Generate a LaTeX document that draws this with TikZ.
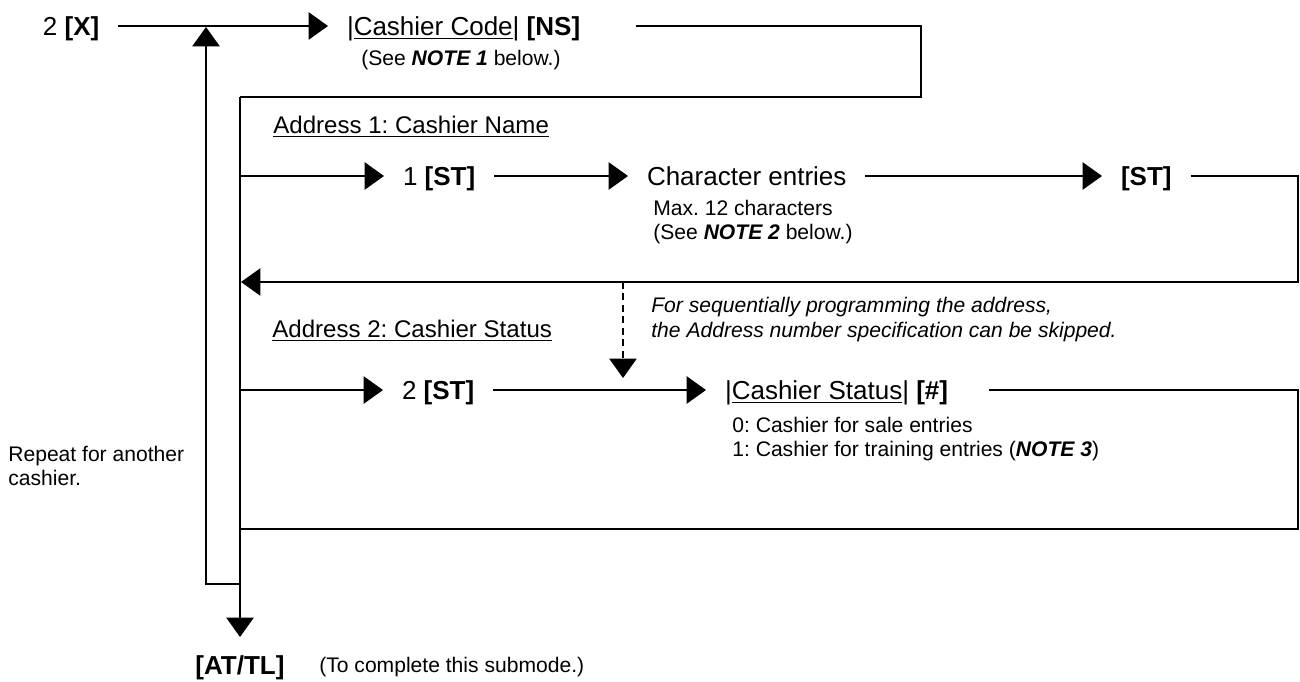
\documentclass[tikz,border=0pt]{standalone}
\usepackage{fontspec}
\setmainfont{Liberation Sans}
\usetikzlibrary{arrows.meta, positioning}
\frenchspacing

\begin{document}
\begin{tikzpicture}[
    x=0.02cm, y=-0.02cm,
    key node/.style={anchor=west, inner sep=0pt, outer sep=0.38cm, text height=10.6pt, text depth=0pt, font=\fontsize{14.8}{17}\selectfont},
    note node/.style={anchor=west, inner sep=0pt, align=left, font=\fontsize{12}{13.8}\selectfont},
    head node/.style={anchor=west, inner sep=0pt, font=\fontsize{13.7}{16}\selectfont},
    plain line/.style={line width=0.9pt},
    arrow/.style={plain line, -{Triangle[length=11pt, width=15.5pt]}},
    skip arrow/.style={line width=0.8pt, dash pattern=on 4pt off 2.5pt, -{Triangle[length=11pt, width=15.5pt]}}
    ]

    \useasboundingbox (0,0) rectangle (1300,682);

    % key sequence
    \node[key node] (X2) at (24,26) {2 \textbf{[X]}};
    \node[key node] (CODE) at (328,26) {|\underline{Cashier Code}| \textbf{[NS]}};
    \node[note node] (NOTE1) at (361,60) {(See \textbf{\textit{NOTE 1}} below.)};

    \node[head node] (ADDR1) at (273,127) {\underline{Address 1: Cashier Name}};
    \node[key node] (ST1) at (384,176) {1 \textbf{[ST]}};
    \node[key node] (CHAR) at (628,176) {Character entries};
    \node[key node] (ST1E) at (1102,176) {\textbf{[ST]}};
    \node[note node] (NOTE2) at (653,222) {Max. 12 characters\\(See \textbf{\textit{NOTE 2}} below.)};

    \node[note node, font=\fontsize{12}{14.2}\selectfont\itshape] (SKIP) at (651,320) {For sequentially programming the address,\\the Address number specification can be skipped.};

    \node[head node] (ADDR2) at (272,331) {\underline{Address 2: Cashier Status}};
    \node[key node] (ST2) at (383,390) {2 \textbf{[ST]}};
    \node[key node] (STAT) at (706,390) {|\underline{Cashier Status}| \textbf{[\#]}};
    \node[note node] (STATV) at (732,439) {0: Cashier for sale entries\\1: Cashier for training entries (\textbf{\textit{NOTE 3}})};

    \node[note node] (REP) at (8,466) {Repeat for another\\cashier.};

    \node[key node, anchor=north] (ATTL) at (240,637) {\textbf{[AT/TL]}};
    \node[note node] (DONE) at (319,667) {(To complete this submode.)};

    % corners
    \coordinate (NSOUT) at (636,26);
    \coordinate (NSR) at (921,26);
    \coordinate (SPT) at (240,97);
    \coordinate (SP1) at (240,176);
    \coordinate (R1) at (1298,176);
    \coordinate (RET1) at (241,282);
    \coordinate (SKIPS) at (623,282);
    \coordinate (SKIPE) at (623,378);
    \coordinate (SP2) at (240,390);
    \coordinate (STOUT) at (989,390);
    \coordinate (R2) at (1298,390);
    \coordinate (SPB) at (240,529);
    \coordinate (LB) at (240,584);
    \coordinate (LL) at (206,584);
    \coordinate (LIN) at (206,27);

    % arrows
    \draw[arrow] (X2) -- (CODE);
    \draw[plain line] (NSOUT) -- (NSR) |- (SPT);
    \draw[arrow] (SPT) -- (ATTL);

    \draw[arrow] (SP1) -- (ST1);
    \draw[arrow] (ST1) -- (CHAR);
    \draw[arrow] (CHAR) -- (ST1E);
    \draw[arrow] (ST1E) -- (R1) |- (RET1);
    \draw[skip arrow] (SKIPS) -- (SKIPE);

    \draw[arrow] (SP2) -- (ST2);
    \draw[arrow] (ST2) -- (STAT);
    \draw[plain line] (STOUT) -- (R2) |- (SPB);

    % repeat loop
    \draw[arrow] (LB) -- (LL) -- (LIN);

\end{tikzpicture}
\end{document}
